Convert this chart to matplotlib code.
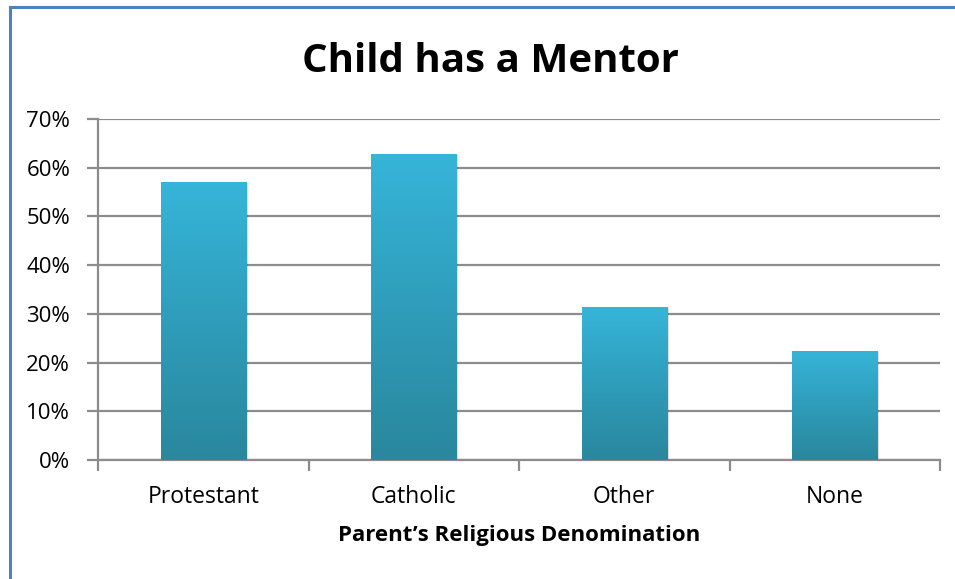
import matplotlib.pyplot as plt
import numpy as np
from matplotlib.colors import LinearSegmentedColormap
from matplotlib.patches import Rectangle
from matplotlib.ticker import FuncFormatter, MultipleLocator

categories = ['Protestant', 'Catholic', 'Other', 'None']
values = [0.571, 0.628, 0.315, 0.224]

plt.rcParams['font.family'] = ['Open Sans', 'DejaVu Sans']

fig = plt.figure(figsize=(9.55, 5.79), dpi=100)
ax = fig.add_axes([98 / 955, 1 - 460 / 579, (940 - 98) / 955, (460 - 119) / 579])

# outer chart border (only top and left visible in the crop)
fig.add_artist(plt.Line2D([9.5 / 955, 9.5 / 955], [0, 1 - 6.5 / 579], color='#4F81BD', lw=2.2))
fig.add_artist(plt.Line2D([9.5 / 955, 1], [1 - 6.5 / 579, 1 - 6.5 / 579], color='#4F81BD', lw=2.2))

cmap = LinearSegmentedColormap.from_list('bar', ['#2A879D', '#2F9DBB', '#36B5D9'])
grad = np.linspace(0, 1, 256).reshape(-1, 1)

x = np.arange(len(categories))
width = 0.405
bars = ax.bar(x, values, width=width, color='none', zorder=3)
for b in bars:
    x0, y0 = b.get_x(), b.get_y()
    w, h = b.get_width(), b.get_height()
    # soft shadow
    ax.add_patch(Rectangle((x0 + 0.008, y0), w, h - 0.002, color='#000000', alpha=0.12, zorder=2.5, lw=0))
    im = ax.imshow(grad, cmap=cmap, aspect='auto', origin='lower',
                   extent=(x0, x0 + w, y0, y0 + h), zorder=3)
    clip = Rectangle((x0, y0), w, h, transform=ax.transData)
    im.set_clip_path(clip)

ax.set_xlim(-0.5, len(categories) - 0.5)
ax.set_ylim(0, 0.70)
ax.yaxis.set_major_locator(MultipleLocator(0.10))
ax.yaxis.set_major_formatter(FuncFormatter(lambda v, p: f'{v * 100:.0f}%'))
ax.grid(axis='y', color='#8C8C8C', lw=1.6, zorder=1)
ax.set_axisbelow(True)

ax.set_xticks(x)
ax.set_xticklabels(categories)
ax.set_xticks(np.arange(-0.5, len(categories)), minor=True)
ax.tick_params(axis='x', which='major', length=0, pad=18, labelsize=16.5)
ax.tick_params(axis='x', which='minor', length=8, width=1.6, color='#8C8C8C')
ax.tick_params(axis='y', length=8, width=1.6, color='#8C8C8C', labelsize=16, pad=12)

for s in ['top', 'right']:
    ax.spines[s].set_visible(False)
for s in ['left', 'bottom']:
    ax.spines[s].set_color('#8C8C8C')
    ax.spines[s].set_linewidth(1.6)

fig.text(490 / 955, 1 - 61 / 579, 'Child has a Mentor', ha='center', va='center',
         fontsize=29, fontweight='bold')
fig.text(519 / 955, 1 - 536 / 579, 'Parent\u2019s Religious Denomination', ha='center', va='center',
         fontsize=16, fontweight='bold')

fig.savefig('out.png', dpi=100)
